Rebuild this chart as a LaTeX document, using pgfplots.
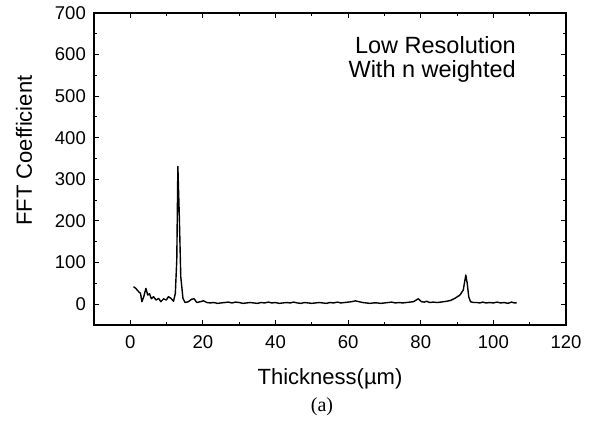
\documentclass[border=0pt]{standalone}
\usepackage{pgfplots}
\pgfplotsset{compat=1.18}
\usepackage{fontspec}
\setmainfont{Liberation Sans}
\newfontfamily\serifcap{Liberation Serif}
\begin{document}
\begin{tikzpicture}
\begin{axis}[
  name=ax,
  scale only axis,
  width=472pt, height=312pt,
  xmin=-10, xmax=120, ymin=-50, ymax=700,
  xtick={0,20,...,120}, ytick={0,100,...,700},
  minor x tick num=1, minor y tick num=1,
  tick align=inside,
  major tick length=5pt, minor tick length=3pt,
  axis line style={line width=1.4pt},
  every tick/.style={black, line width=1pt},
  /pgf/number format/assume math mode=true,
  tick label style={font=\fontsize{18.5}{22}\selectfont},
  xticklabel style={inner sep=0pt, anchor=north, yshift=-10pt},
  yticklabel style={inner sep=0pt, anchor=east, xshift=-8pt},
  xlabel={Thickness(\textmu m)},
  ylabel={FFT Coefficient},
  label style={font=\fontsize{22}{26}\selectfont},
  xlabel style={at={(axis description cs:0.5,0)}, anchor=base, inner sep=0pt, yshift=-60pt},
  ylabel style={at={([xshift=-62pt]axis description cs:0,0.559)}, anchor=base, inner sep=0pt},
  clip=false,
]
\addplot[black, line width=1.4pt, line join=round] coordinates {
(0.9,42) (1.5,38) (2.3,30) (2.8,26) (3.2,6) (3.7,18) (4.3,38) (4.8,22) (5.3,25) (5.8,13)
(6.4,18) (7.1,10) (7.8,14) (8.4,6) (9.2,13) (9.9,10) (10.5,18) (11.2,14) (11.9,7) (12.4,26)
(12.8,106) (13.1,331) (13.5,211) (13.9,66) (14.5,14) (15.1,4) (16.0,6) (16.9,12) (17.6,13) (18.3,4)
(19.3,6) (20.2,8) (21.1,4) (22,3) (23,4) (24,2) (25,3) (26,4) (27,5) (28,3) (29,5) (30,4)
(31,2) (32,3) (33,4) (34,3) (35,2) (36,4) (37,3) (38,5) (39,3) (40,4) (41,2) (42,3) (43,4)
(44,3) (45,5) (46,3) (47,2) (48,4) (49,3) (50,2) (51,3) (52,4) (53,3) (54,2) (55,4) (56,3)
(57,5) (58,3) (59,4) (60,5) (61,6) (62,8) (63,6) (64,4) (65,3) (66,2) (67,3) (68,3) (69,2)
(70,3) (71,4) (72,5) (73,3) (74,4) (75,3) (76,4) (77,5) (78,6) (79.3,13) (80.2,6) (81,5)
(81.6,7) (82.5,4) (83.4,5) (84.5,4) (85.5,5) (86.3,6) (87.1,7) (88.2,9) (89.4,14) (90.8,22)
(91.7,34) (92.4,70) (92.8,50) (93.2,18) (93.7,6) (94.5,4) (95.4,4) (96.3,3) (97,5) (98,3)
(99,4) (100,3) (101,5) (102,3) (103,4) (104,2) (105,5) (105.8,3) (106.4,3)
};
\node[anchor=base east, inner sep=0pt, font=\fontsize{23.5}{26}\selectfont] at (rel axis cs:0.894,0.8686) {Low Resolution};
\node[anchor=base east, inner sep=0pt, font=\fontsize{23.5}{26}\selectfont] at (rel axis cs:0.894,0.7917) {With n weighted};
\end{axis}
\node[anchor=base, inner sep=0pt, font=\serifcap\fontsize{20}{24}\selectfont] at ([xshift=-8pt,yshift=-87pt]ax.south) {(a)};
\coordinate (A) at ([xshift=-94pt,yshift=-98pt]ax.south west);
\coordinate (B) at ([xshift=29pt,yshift=13pt]ax.north east);
\path[use as bounding box] (A) rectangle (B);
\end{tikzpicture}
\end{document}
